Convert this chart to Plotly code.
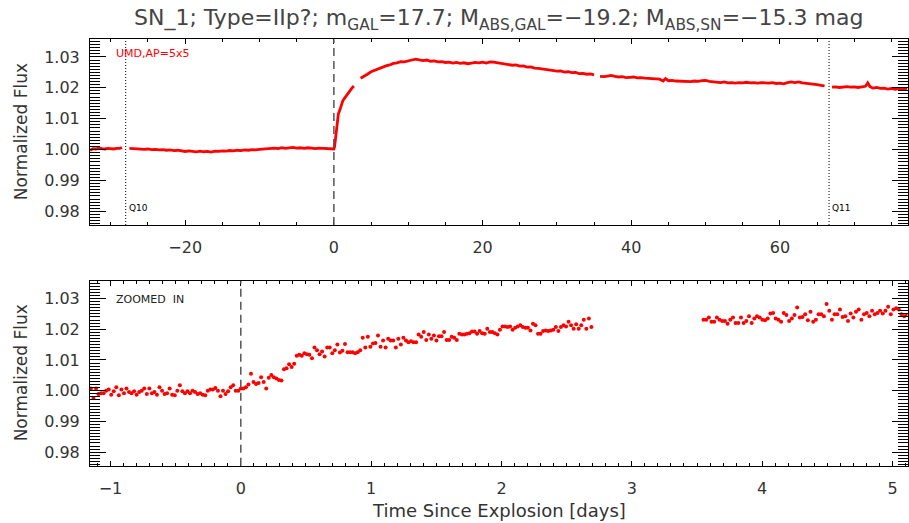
import numpy as np
import plotly.graph_objects as go

W, H = 909, 523
FONT = "DejaVu Sans"
RED = "#ff0000"

TITLE = ("SN_1; Type=IIp?; m<sub>GAL</sub>=17.7; M<sub>ABS,GAL</sub>=\u221219.2; "
         "M<sub>ABS,SN</sub>=\u221215.3 mag")
Y_TITLE = "Normalized Flux"
X_TITLE = "Time Since Explosion [days]"
TOP_LABEL = "UMD,AP=5x5"
BOTTOM_LABEL = "ZOOMED  IN"
QUARTER_NAMES = ["Q10", "Q11"]
QUARTER_T = [-28.0, 66.6]
EXPLOSION_T = 0.0

TOP_XRANGE = [-32.8, 77.15]
BOT_XRANGE = [-1.157, 5.115]
YRANGE = [0.9756, 1.0357]

# ---------------- top panel: long-cadence light curve (None = data gap) ----------------
TOP_TIME = [
    -32.8, -32.4, -32.0, -31.6, -31.2, -30.8, -30.4, -30.0, -29.6, -29.2, -28.8, -28.5,
    None,
    -27.5, -27.0, -26.5, -26.0, -25.5, -25.0, -24.5, -24.0, -23.5, -23.0, -22.5, -22.0,
    -21.5, -21.0, -20.5, -20.0, -19.5, -19.0, -18.5, -18.0, -17.5, -17.0, -16.5, -16.0,
    -15.5, -15.0, -14.5, -14.0, -13.5, -13.0, -12.5, -12.0, -11.5, -11.0, -10.5, -10.0,
    -9.5, -9.0, -8.5, -8.0, -7.5, -7.0, -6.5, -6.0, -5.5, -5.0, -4.5, -4.0, -3.5, -3.0,
    -2.5, -2.0, -1.5, -1.0, -0.5, 0.0, 0.1, 0.2, 0.3, 0.4, 0.5, 0.6, 0.8, 1.0, 1.2, 1.4,
    1.6, 1.8, 2.0, 2.2, 2.4, 2.69,
    None,
    3.6, 4.0, 4.5, 5.0, 5.5, 6.0, 6.5, 7.0, 7.5, 8.0, 8.5, 9.0, 9.5, 10.0, 10.5, 11.0,
    11.5, 12.0, 12.5, 13.0, 13.5, 14.0, 14.5, 15.0, 15.5, 16.0, 16.5, 17.0, 17.5, 18.0,
    18.5, 19.0, 19.5, 20.0, 20.5, 21.0, 21.5, 22.0, 22.5, 23.0, 23.5, 24.0, 24.5, 25.0,
    25.5, 26.0, 26.5, 27.0, 27.5, 28.0, 28.5, 29.0, 29.5, 30.0, 30.5, 31.0, 31.5, 32.0,
    32.5, 33.0, 33.5, 34.0, 34.5, 35.0,
    None,
    35.8, 36.3, 36.8, 37.3, 37.8, 38.3, 38.8, 39.3, 39.8, 40.3, 40.8, 41.3, 41.8, 42.3,
    42.8, 43.3, 43.8, 44.3, 44.6, 45.0, 45.5, 46.0, 46.5, 47.0, 47.5, 48.0, 48.5, 49.0,
    49.5, 50.0, 50.5, 51.0, 51.5, 52.0, 52.5, 53.0, 53.5, 54.0, 54.5, 55.0, 55.5, 56.0,
    56.5, 57.0, 57.5, 58.0, 58.5, 59.0, 59.5, 60.0, 60.5, 61.0, 61.5, 62.0, 62.5, 63.0,
    63.5, 64.0, 64.5, 65.0, 65.5, 66.0,
    None,
    67.0, 67.5, 68.0, 68.5, 69.0, 69.5, 70.0, 70.5, 71.0, 71.5, 71.8, 72.1, 72.5, 73.0,
    73.5, 74.0, 74.5, 75.0, 75.5, 76.0, 76.5, 77.1,
]
TOP_FLUX = [
    0.9998, 1.0003, 1.0002, 1.0005, 1.0003, 1.0002, 1.0004, 1.0003, 1.0002, 1.0004, 1.0004, 1.0007,
    None,
    1.0004, 1.0003, 1.0002, 1.0003, 1.0001, 1.0002, 1.0000, 1.0001, 0.9999, 1.0000, 0.9998, 0.9999,
    0.9997, 0.9998, 0.9996, 0.9994, 0.9996, 0.9994, 0.9993, 0.9995, 0.9993, 0.9994, 0.9992, 0.9995,
    0.9994, 0.9996, 0.9995, 0.9997, 0.9996, 0.9998, 0.9997, 0.9999, 0.9998, 1.0000, 0.9999, 1.0001,
    1.0002, 1.0004, 1.0003, 1.0005, 1.0003, 1.0006, 1.0004, 1.0005, 1.0007, 1.0005, 1.0006, 1.0004,
    1.0006, 1.0005, 1.0003, 1.0005, 1.0004, 1.0003, 1.0004, 1.0002, 1.0010, 1.0030, 1.0045, 1.0075,
    1.0100, 1.0115, 1.0128, 1.0145, 1.0158, 1.0165, 1.0172, 1.0180, 1.0186, 1.0192, 1.0198, 1.0206,
    None,
    1.0231, 1.0236, 1.0244, 1.0252, 1.0257, 1.0263, 1.0266, 1.0271, 1.0274, 1.0279, 1.0281, 1.0285,
    1.0284, 1.0288, 1.0290, 1.0293, 1.0290, 1.0288, 1.0290, 1.0286, 1.0287, 1.0284, 1.0285, 1.0282,
    1.0283, 1.0280, 1.0282, 1.0279, 1.0281, 1.0278, 1.0280, 1.0282, 1.0281, 1.0283, 1.0280, 1.0284,
    1.0283, 1.0281, 1.0279, 1.0277, 1.0275, 1.0273, 1.0274, 1.0270, 1.0271, 1.0267, 1.0268, 1.0264,
    1.0263, 1.0261, 1.0260, 1.0257, 1.0256, 1.0254, 1.0255, 1.0251, 1.0252, 1.0249, 1.0250, 1.0246,
    1.0247, 1.0244, 1.0245, 1.0242,
    None,
    1.0237, 1.0236, 1.0238, 1.0240, 1.0237, 1.0235, 1.0236, 1.0233, 1.0234, 1.0235, 1.0232, 1.0233,
    1.0231, 1.0230, 1.0229, 1.0230, 1.0228, 1.0222, 1.0230, 1.0223, 1.0224, 1.0222, 1.0221, 1.0220,
    1.0219, 1.0220, 1.0222, 1.0221, 1.0223, 1.0224, 1.0221, 1.0220, 1.0218, 1.0217, 1.0219, 1.0216,
    1.0217, 1.0215, 1.0217, 1.0216, 1.0218, 1.0216, 1.0217, 1.0215, 1.0217, 1.0216, 1.0215, 1.0217,
    1.0214, 1.0215, 1.0213, 1.0217, 1.0219, 1.0217, 1.0219, 1.0216, 1.0215, 1.0213, 1.0211, 1.0210,
    1.0208, 1.0206,
    None,
    1.0202, 1.0203, 1.0201, 1.0202, 1.0204, 1.0202, 1.0203, 1.0201, 1.0203, 1.0205, 1.0216, 1.0204,
    1.0199, 1.0201, 1.0198, 1.0199, 1.0196, 1.0198, 1.0195, 1.0197, 1.0196, 1.0198,
]

# ---------------- bottom panel: zoom on the rise (individual cadences) ----------------
ZOOM_SEG1_START, ZOOM_SEG1_END = -1.15, 2.69
ZOOM_SEG2_START, ZOOM_SEG2_END = 3.55, 5.11
ZOOM_FLUX_SEG1 = [
    # before explosion
    1.0007, 0.9976, 1.0007, 0.9989, 0.9992, 0.9992, 1.0000, 1.0004, 0.9987, 0.9998, 1.0011, 0.9985,
    1.0004, 0.9992, 1.0007, 0.9996, 0.9992, 0.9998, 0.9987, 0.9996, 1.0000, 1.0007, 0.9989, 1.0007,
    0.9992, 0.9996, 0.9987, 1.0011, 1.0000, 0.9989, 0.9992, 1.0007, 0.9987, 0.9985, 1.0000, 1.0018,
    0.9998, 0.9992, 0.9998, 0.9992, 1.0000, 0.9996, 0.9989, 0.9992, 0.9987, 0.9985, 1.0000, 1.0004,
    1.0004, 1.0009, 1.0000, 0.9982, 1.0000, 0.9989, 0.9998, 1.0011, 1.0018, 1.0000,
    # rise
    1.0000, 1.0007, 1.0007, 1.0011, 1.0020, 1.0055, 1.0028, 1.0022, 1.0025, 1.0044, 1.0028, 1.0007,
    1.0042, 1.0051, 1.0044, 1.0040, 1.0035, 1.0033, 1.0070, 1.0073, 1.0086, 1.0077, 1.0088, 1.0114,
    1.0117, 1.0114, 1.0122, 1.0119, 1.0117, 1.0106, 1.0141, 1.0132, 1.0119, 1.0128, 1.0111, 1.0141,
    1.0141, 1.0122, 1.0132, 1.0150, 1.0124,
    # slow climb
    1.0130, 1.0152, 1.0125, 1.0125, 1.0125, 1.0122, 1.0125, 1.0132, 1.0172, 1.0141, 1.0176, 1.0143,
    1.0154, 1.0155, 1.0180, 1.0143, 1.0163, 1.0141, 1.0169, 1.0163, 1.0163, 1.0141, 1.0169, 1.0150,
    1.0172, 1.0163, 1.0158, 1.0161, 1.0158, 1.0158, 1.0183, 1.0176, 1.0191, 1.0165, 1.0183, 1.0169,
    1.0180, 1.0163, 1.0177, 1.0177, 1.0191, 1.0165, 1.0165, 1.0176, 1.0172, 1.0165, 1.0185, 1.0183,
    1.0183, 1.0185, 1.0187, 1.0193, 1.0193, 1.0185, 1.0194, 1.0187, 1.0185, 1.0202, 1.0191, 1.0191,
    1.0187, 1.0183, 1.0198, 1.0209, 1.0209, 1.0207, 1.0209, 1.0198, 1.0205, 1.0209, 1.0213, 1.0207,
    1.0205, 1.0205, 1.0196, 1.0218, 1.0213, 1.0185, 1.0185, 1.0194, 1.0196, 1.0194, 1.0196, 1.0198,
    1.0207, 1.0194, 1.0207, 1.0213, 1.0209, 1.0224, 1.0213, 1.0202, 1.0216, 1.0202, 1.0213, 1.0231,
    1.0202, 1.0235, 1.0207,
]
ZOOM_FLUX_SEG2 = [
    1.0231, 1.0231, 1.0238, 1.0224, 1.0224, 1.0238, 1.0231, 1.0227, 1.0227, 1.0218, 1.0231, 1.0238,
    1.0220, 1.0220, 1.0238, 1.0220, 1.0227, 1.0242, 1.0220, 1.0235, 1.0242, 1.0238, 1.0231, 1.0229,
    1.0235, 1.0251, 1.0253, 1.0235, 1.0231, 1.0224, 1.0253, 1.0246, 1.0227, 1.0235, 1.0246, 1.0271,
    1.0238, 1.0240, 1.0249, 1.0229, 1.0257, 1.0224, 1.0231, 1.0249, 1.0249, 1.0242, 1.0282, 1.0260,
    1.0231, 1.0249, 1.0249, 1.0264, 1.0240, 1.0242, 1.0227, 1.0251, 1.0238, 1.0257, 1.0264, 1.0231,
    1.0249, 1.0253, 1.0242, 1.0260, 1.0249, 1.0253, 1.0260, 1.0251, 1.0260, 1.0273, 1.0249, 1.0264,
    1.0268, 1.0264, 1.0249, 1.0242, 1.0246,
]
# observation epochs are evenly spaced (fixed cadence) within each segment
zoom_t1 = np.linspace(ZOOM_SEG1_START, ZOOM_SEG1_END, len(ZOOM_FLUX_SEG1))
zoom_t2 = np.linspace(ZOOM_SEG2_START, ZOOM_SEG2_END, len(ZOOM_FLUX_SEG2))
zoom_t = list(zoom_t1) + [None] + list(zoom_t2)
zoom_f = ZOOM_FLUX_SEG1 + [None] + ZOOM_FLUX_SEG2

# ---------------- layout geometry (pixels) ----------------
X0, X1 = 90, 907.5
TOP_Y0, TOP_Y1 = 39.3, 225.0
BOT_Y0, BOT_Y1 = 281.0, 465.7

def py(pix):
    return 1 - pix / H

fig = go.Figure()
fig.add_trace(go.Scatter(x=TOP_TIME, y=TOP_FLUX, mode="lines", connectgaps=False,
                         line=dict(color=RED, width=2.8), xaxis="x", yaxis="y",
                         showlegend=False, hoverinfo="skip"))
fig.add_trace(go.Scatter(x=zoom_t, y=zoom_f, mode="markers",
                         marker=dict(color=RED, size=4, line=dict(width=0)),
                         xaxis="x2", yaxis="y2", showlegend=False, hoverinfo="skip"))

tickfont = dict(family=FONT, size=16, color="#333333")
common_y = dict(range=YRANGE, showgrid=False, zeroline=False, showline=True, linecolor="black",
                linewidth=1, ticks="inside", ticklen=16, tickwidth=1, tickcolor="black",
                mirror="allticks", dtick=0.01, tick0=0.98, tickformat=".2f", tickfont=tickfont,
                minor=dict(dtick=0.001, tick0=0.98, ticks="inside", ticklen=10, tickcolor="black",
                           tickwidth=1, showgrid=False),
                ticklabelstandoff=6)
common_x = dict(showgrid=False, zeroline=False, showline=True, linecolor="black", linewidth=1,
                ticks="inside", ticklen=5, tickwidth=1, tickcolor="black", mirror="allticks",
                tickfont=tickfont, domain=[X0 / W, X1 / W], ticklabelstandoff=8)

fig.update_layout(
    width=W, height=H, margin=dict(l=0, r=0, t=0, b=0),
    paper_bgcolor="white", plot_bgcolor="white",
    xaxis=dict(common_x, range=TOP_XRANGE, dtick=20, tick0=0, anchor="y",
               minor=dict(dtick=5, tick0=0, ticks="inside", ticklen=3, tickcolor="black",
                          showgrid=False)),
    yaxis=dict(common_y, domain=[py(TOP_Y1), py(TOP_Y0)], anchor="x"),
    xaxis2=dict(common_x, range=BOT_XRANGE, dtick=1, tick0=0, anchor="y2",
                minor=dict(dtick=0.1, tick0=0, ticks="inside", ticklen=3, tickcolor="black",
                           showgrid=False)),
    yaxis2=dict(common_y, domain=[py(BOT_Y1), py(BOT_Y0)], anchor="x2"),
    font=dict(family=FONT, color="#333333"),
)

shapes = []
# explosion epoch (dashed) in both panels
for xr, yr in (("x", "y domain"), ("x2", "y2 domain")):
    shapes.append(dict(type="line", xref=xr, yref=yr, x0=EXPLOSION_T, x1=EXPLOSION_T, y0=0, y1=1,
                       line=dict(color="#555555", width=1.5, dash="8px,5px")))
# quarter boundaries (dotted)
for qt in QUARTER_T:
    shapes.append(dict(type="line", xref="x", yref="y domain", x0=qt, x1=qt, y0=0, y1=1,
                       line=dict(color="black", width=1, dash="1px,2px")))
fig.update_layout(shapes=shapes)

ann = []
ann.append(dict(text=TITLE, x=(X0 + X1) / 2 / W, y=py(20), xref="paper", yref="paper",
                xanchor="center", yanchor="middle", showarrow=False,
                font=dict(family=FONT, size=22, color="#444444")))
for yc in ((TOP_Y0 + TOP_Y1) / 2, (BOT_Y0 + BOT_Y1) / 2):
    ann.append(dict(text=Y_TITLE, x=21 / W, y=py(yc), xref="paper", yref="paper",
                    xanchor="center", yanchor="middle", textangle=-90, showarrow=False,
                    font=dict(family=FONT, size=17, color="#333333")))
ann.append(dict(text=X_TITLE, x=(X0 + X1) / 2 / W, y=py(510), xref="paper", yref="paper",
                xanchor="center", yanchor="middle", showarrow=False,
                font=dict(family=FONT, size=18, color="#333333")))
ann.append(dict(text=TOP_LABEL, x=114 / W, y=py(54), xref="paper", yref="paper",
                xanchor="left", yanchor="middle", showarrow=False,
                font=dict(family=FONT, size=11, color=RED)))
ann.append(dict(text=BOTTOM_LABEL, x=114 / W, y=py(299), xref="paper", yref="paper",
                xanchor="left", yanchor="middle", showarrow=False,
                font=dict(family=FONT, size=11, color="#222222")))
for name, qt in zip(QUARTER_NAMES, QUARTER_T):
    ann.append(dict(text=name, x=qt, y=py(208), xref="x", yref="paper",
                    xanchor="left", yanchor="middle", xshift=1, showarrow=False,
                    font=dict(family=FONT, size=9, color="black")))
fig.update_layout(annotations=ann)

fig.write_html("out.html")
